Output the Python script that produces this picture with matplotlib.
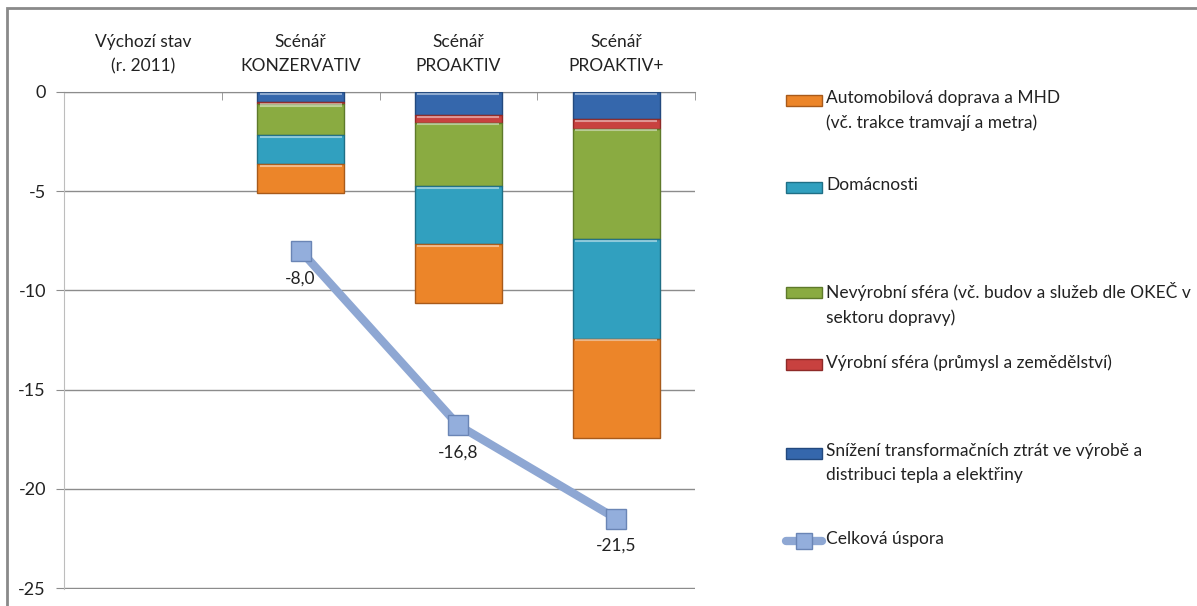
import numpy as np
import matplotlib
matplotlib.use("Agg")
import matplotlib.pyplot as plt
from matplotlib.patches import Rectangle
from matplotlib.lines import Line2D

plt.rcParams['font.family'] = ['Lato', 'DejaVu Sans']
plt.rcParams['axes.unicode_minus'] = False

# categories (first one is empty baseline)
categories = ['Výchozí stav\n(r. 2011)', 'Scénář\nKONZERVATIV', 'Scénář\nPROAKTIV', 'Scénář\nPROAKTIV+']

# savings per sector, stacked from top (0) downwards
transformace = [np.nan, -0.50, -1.17, -1.36]
vyrobni = [np.nan, -0.12, -0.38, -0.50]
nevyrobni = [np.nan, -1.55, -3.19, -5.56]
domacnosti = [np.nan, -1.47, -2.94, -5.02]
doprava = [np.nan, -1.45, -2.97, -5.00]

celkova = [np.nan, -8.0, -16.8, -21.5]

series_labels = [
    'Snížení transformačních ztrát ve výrobě a\ndistribuci tepla a elektřiny',
    'Výrobní sféra (průmysl a zemědělství)',
    'Nevýrobní sféra (vč. budov a služeb dle OKEČ v\nsektoru dopravy)',
    'Domácnosti',
    'Automobilová doprava a MHD\n(vč. trakce tramvají a metra)',
]
series_colors = ['#3567AC', '#C8413F', '#8AAB41', '#31A0BF', '#EC8529']
edge_colors = ['#23497E', '#8E2A28', '#5E7A2A', '#1F6F86', '#A85A1A']
line_label = 'Celková úspora'

fig = plt.figure(figsize=(11.97, 6.06), dpi=100)
W, H = 1197, 606
ax = fig.add_axes([64 / W, 1 - 589 / H, (695 - 64) / W, (589 - 92) / H])

x = np.arange(len(categories))
stack = [transformace, vyrobni, nevyrobni, domacnosti, doprava]
bottom = np.zeros(len(categories))
for vals, col, ec in zip(stack, series_colors, edge_colors):
    vals = np.array(vals)
    ax.bar(x, vals, 0.55, bottom=bottom, color=col, edgecolor=ec, linewidth=1.0, zorder=3)
    # light bevel on the top edge of each block
    for xi, b, v in zip(x, bottom, vals):
        if not np.isnan(v):
            ax.plot([xi - 0.26, xi + 0.26], [b - 0.08, b - 0.08], color='white', alpha=0.45,
                    linewidth=1.5, zorder=4, solid_capstyle='butt')
    bottom = bottom + np.nan_to_num(vals)

ax.plot(x, celkova, color='#8EA7D3', linewidth=6, zorder=5, solid_capstyle='round')
ax.plot(x, celkova, linestyle='none', marker='s', markersize=14, markerfacecolor='#93AEDC',
        markeredgecolor='#6A85B5', markeredgewidth=1.0, zorder=6)
for xi, v in zip(x, celkova):
    if not np.isnan(v):
        ax.annotate(f'{v:.1f}'.replace('.', ','), (xi, v), xytext=(0, -14), textcoords='offset points',
                    ha='center', va='top', fontsize=12.5, color='#222222', zorder=7)

ax.set_xlim(-0.5, len(categories) - 0.5)
ax.set_ylim(-25.05, 0)
ax.set_yticks([0, -5, -10, -15, -20, -25])
ax.yaxis.grid(True, color='#8C8C8C', linewidth=1.0, zorder=0)
ax.set_axisbelow(True)
ax.tick_params(axis='y', length=6, color='#8C8C8C', labelsize=13, pad=7, labelcolor='#222222')

ax.xaxis.tick_top()
ax.set_xticks(x)
ax.set_xticklabels(categories, fontsize=12.5, color='#222222', linespacing=1.6)
ax.tick_params(axis='x', which='major', length=0, pad=13)
ax.set_xticks(np.arange(len(categories) + 1) - 0.5, minor=True)
ax.tick_params(axis='x', which='minor', direction='in', length=6, color='#8C8C8C', top=True, bottom=False)

for s in ['right', 'bottom']:
    ax.spines[s].set_visible(False)
ax.spines['top'].set_color('#8C8C8C')
ax.spines['left'].set_color('#BDBDBD')

# outer chart border
fig.add_artist(Rectangle((7 / W, -0.05), 1.1, 1 - 8 / H + 0.05, transform=fig.transFigure,
                         fill=False, edgecolor='#8A8A8A', linewidth=2))

# legend drawn on the right, handle aligned with first text line
legend_order = [4, 3, 2, 1, 0]
legend_y = [100, 187, 292, 364, 453]
for idx, yp in zip(legend_order, legend_y):
    fig.add_artist(Rectangle((786 / W, 1 - (yp + 6) / H), 36 / W, 11 / H, transform=fig.transFigure,
                             facecolor=series_colors[idx], edgecolor=edge_colors[idx], linewidth=1))
    fig.text(826 / W, 1 - (yp - 10) / H, series_labels[idx], fontsize=12.5, color='#222222',
             va='top', ha='left', linespacing=1.65)

yl = 541
fig.add_artist(Line2D([786 / W, 822 / W], [1 - yl / H, 1 - yl / H], transform=fig.transFigure,
                      color='#8EA7D3', linewidth=6, solid_capstyle='round'))
fig.add_artist(Line2D([804 / W], [1 - yl / H], transform=fig.transFigure, marker='s', markersize=11,
                      markerfacecolor='#93AEDC', markeredgecolor='#6A85B5'))
fig.text(826 / W, 1 - (yl - 10) / H, line_label, fontsize=12.5, color='#222222', va='top', ha='left')

fig.savefig('out.png', dpi=100)
